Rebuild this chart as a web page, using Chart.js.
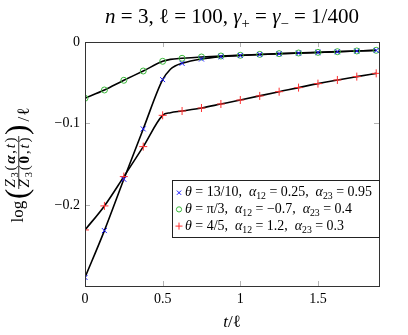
<!DOCTYPE html>
<html>
<head>
<meta charset="utf-8">
<script src="https://cdn.jsdelivr.net/npm/chart.js@4/dist/chart.umd.min.js"></script>
<style>
html, body { margin: 0; padding: 0; background: #fff; }
canvas { display: block; }
</style>
</head>
<body>
<canvas id="chart" width="408" height="335"></canvas>
<script>
// Marker positions (t / l) and values
var tMarks = [0, 0.125, 0.25, 0.375, 0.5, 0.625, 0.75, 0.875, 1, 1.125, 1.25, 1.375, 1.5, 1.625, 1.75, 1.875];
var blueMarks = [-0.289, -0.2315, -0.1685, -0.1067, -0.0462, -0.0262, -0.0209, -0.0180, -0.0165, -0.0153, -0.0144, -0.0136, -0.0128, -0.0120, -0.0111, -0.0103];
var greenMarks = [-0.069, -0.0589, -0.047, -0.0356, -0.0237, -0.0200, -0.0184, -0.0172, -0.0163, -0.0152, -0.0143, -0.0135, -0.0127, -0.0119, -0.0110, -0.0102];
var redMarks = [-0.2307, -0.2012, -0.1652, -0.1284, -0.0900, -0.0847, -0.0810, -0.0761, -0.0712, -0.0662, -0.0610, -0.0560, -0.0511, -0.0466, -0.0425, -0.0385];

// Black (theory) curves, a few extra points read near the bends
var blueLineT = [0, 0.125, 0.25, 0.375, 0.5, 0.55, 0.58, 0.625, 0.75, 0.875, 1, 1.25, 1.5, 1.75, 1.875];
var blueLine = [-0.289, -0.2315, -0.1685, -0.1067, -0.0462, -0.0335, -0.0295, -0.0262, -0.0209, -0.0180, -0.0165, -0.0144, -0.0128, -0.0111, -0.0103];
var greenLineT = [0, 0.125, 0.25, 0.375, 0.5, 0.55, 0.625, 0.75, 0.875, 1, 1.25, 1.5, 1.75, 1.875];
var greenLine = [-0.069, -0.0589, -0.047, -0.0356, -0.0237, -0.0213, -0.0200, -0.0184, -0.0172, -0.0163, -0.0143, -0.0127, -0.0110, -0.0102];
var redLineT = [0, 0.125, 0.25, 0.375, 0.5, 0.55, 0.625, 0.75, 0.875, 1, 1.25, 1.5, 1.75, 1.875];
var redLine = [-0.2307, -0.2012, -0.1652, -0.1284, -0.0900, -0.0868, -0.0847, -0.0810, -0.0761, -0.0712, -0.0610, -0.0511, -0.0425, -0.0385];

var xTicks = [0, 0.5, 1, 1.5];
var yTicks = [0, -0.1, -0.2];

var SERIF = '"Liberation Serif", "DejaVu Serif", serif';

function pts(xs, ys) {
    return xs.map(function (x, i) { return { x: x, y: ys[i] }; });
}

// Small math-text helpers: [text, style] runs, style '' roman, 'i' italic,
// 'b' bold italic, 'B' bold, 's' subscript. gap = extra px after each run
function fontFor(st, size) {
    var s = st === 's' ? size * 0.7 : size;
    var pre = st === 'i' ? 'italic ' : (st === 'b' ? 'italic bold ' : (st === 'B' ? 'bold ' : ''));
    return pre + s.toFixed(2) + 'px ' + SERIF;
}
function mathWidth(ctx, segs, size, gap) {
    var w = 0;
    segs.forEach(function (g) { ctx.font = fontFor(g[1], size); w += ctx.measureText(g[0]).width; });
    return w + (gap || 0) * (segs.length - 1);
}
function drawMath(ctx, segs, x, y, size, gap) {
    ctx.textAlign = 'left';
    ctx.textBaseline = 'alphabetic';
    segs.forEach(function (g) {
        ctx.font = fontFor(g[1], size);
        ctx.fillText(g[0], x, y + (g[1] === 's' ? size * 0.22 : 0));
        x += ctx.measureText(g[0]).width + (gap || 0);
    });
    return x;
}

var titleSegs = [['n', 'i'], [' = 3, ', ''], ['ℓ', ''], [' = 100, ', ''], ['γ', 'i'], ['+', 's'], [' = ', ''], ['γ', 'i'], ['−', 's'], [' = 1/400', '']];
var legendRows = [
    [['θ', 'i'], [' = 13/10,  ', ''], ['α', 'i'], ['12', 's'], [' = 0.25,  ', ''], ['α', 'i'], ['23', 's'], [' = 0.95', '']],
    [['θ', 'i'], [' = π/3,  ', ''], ['α', 'i'], ['12', 's'], [' = −0.7,  ', ''], ['α', 'i'], ['23', 's'], [' = 0.4', '']],
    [['θ', 'i'], [' = 4/5,  ', ''], ['α', 'i'], ['12', 's'], [' = 1.2,  ', ''], ['α', 'i'], ['23', 's'], [' = 0.3', '']]
];
var legendStyles = [
    { style: 'crossRot', color: '#1a1aff', r: 3 },
    { style: 'circle', color: '#3cb83c', r: 2.6 },
    { style: 'cross', color: '#ff3030', r: 3.5 }
];

/**
 * Frame, inward ticks, title, axis labels and legend
 */
var decorPlugin = {
    id: 'decor',
    beforeDatasetsDraw: function (chart) {
        var ctx = chart.ctx, a = chart.chartArea;
        ctx.save();
        ctx.strokeStyle = '#b4b4b4';
        ctx.lineWidth = 1;
        ctx.beginPath();
        xTicks.forEach(function (v) {
            var p = Math.round(chart.scales.x.getPixelForValue(v)) + 0.5;
            ctx.moveTo(p, a.bottom); ctx.lineTo(p, a.bottom - 5);
            ctx.moveTo(p, a.top); ctx.lineTo(p, a.top + 5);
        });
        yTicks.forEach(function (v) {
            var p = Math.round(chart.scales.y.getPixelForValue(v)) + 0.5;
            ctx.moveTo(a.left, p); ctx.lineTo(a.left + 5, p);
            ctx.moveTo(a.right, p); ctx.lineTo(a.right - 5, p);
        });
        ctx.stroke();
        ctx.restore();
    },
    afterDraw: function (chart) {
        var ctx = chart.ctx, a = chart.chartArea;
        ctx.save();
        ctx.fillStyle = '#000';

        // Frame
        ctx.strokeStyle = '#333';
        ctx.lineWidth = 1;
        ctx.strokeRect(Math.round(a.left) + 0.5, Math.round(a.top) + 0.5, Math.round(a.right - a.left), Math.round(a.bottom - a.top));

        // Title
        var ts = 16 * 254 / mathWidth(ctx, titleSegs, 16);
        drawMath(ctx, titleSegs, 232 - mathWidth(ctx, titleSegs, ts) / 2, 23, ts);

        // x label
        var xl = [['t', 'i'], ['/', ''], ['ℓ', '']];
        drawMath(ctx, xl, 232 - mathWidth(ctx, xl, 17) / 2, 327, 17);

        // y label, rotated; local y is the page x
        ctx.save();
        ctx.translate(0, 162.5);
        ctx.rotate(-Math.PI / 2);
        var logS = [['log', '']], slashS = [['/', ''], ['ℓ', '']];
        var num = [['Z', 'i'], ['3', 's'], ['(', ''], ['α', 'b'], [',', ''], ['t', 'i'], [')', '']];
        var den = [['Z', 'i'], ['3', 's'], ['(', ''], ['0', 'B'], [',', ''], ['t', 'i'], [')', '']];
        var fs = 15, fw = 50;
        drawMath(ctx, logS, -60, 22.5, 17, 0);
        ctx.font = '31px ' + SERIF;
        ctx.fillText('(', -36.5, 27);
        ctx.fillText(')', 27.5, 27);
        var gN = Math.max(0, (fw - mathWidth(ctx, num, fs)) / 6);
        var gD = Math.max(0, (fw - mathWidth(ctx, den, fs)) / 6);
        var wN = mathWidth(ctx, num, fs, gN), wD = mathWidth(ctx, den, fs, gD);
        drawMath(ctx, num, -wN / 2, 15, fs, gN);
        drawMath(ctx, den, -wD / 2, 29, fs, gD);
        ctx.fillRect(-Math.max(wN, wD) / 2 - 1.5, 18.4, Math.max(wN, wD) + 3, 0.8);
        drawMath(ctx, slashS, 41, 29, 17, 1);
        ctx.restore();

        // Legend
        var bx = 172.5, by = 180.5, bw = Math.round(a.right) - 172, bh = 57;
        ctx.fillStyle = '#fff';
        ctx.fillRect(bx, by, bw, bh);
        ctx.strokeStyle = '#222';
        ctx.strokeRect(bx, by, bw, bh);
        var ls = 11 * 187 / mathWidth(ctx, legendRows[0], 11);
        legendRows.forEach(function (row, i) {
            var cy = 192.7 + i * 16.7;
            var m = legendStyles[i];
            ctx.strokeStyle = m.color;
            ctx.fillStyle = 'rgba(0,0,0,0)';
            ctx.lineWidth = 1;
            Chart.helpers.drawPoint(ctx, {
                pointStyle: m.style, radius: m.r, borderWidth: 1, rotation: 0
            }, 179, cy);
            ctx.fillStyle = '#000';
            drawMath(ctx, row, 185, cy + 3.6, ls);
        });
        ctx.restore();
    }
};

function marks(vals, style, color, r) {
    return {
        type: 'scatter',
        data: pts(tMarks, vals),
        showLine: false,
        pointStyle: style,
        pointRadius: r,
        pointBorderWidth: 1,
        pointBorderColor: color,
        pointBackgroundColor: 'rgba(0,0,0,0)',
        borderColor: color,
        order: 0
    };
}
function curve(xs, ys) {
    return {
        type: 'line',
        data: pts(xs, ys),
        borderColor: '#000',
        borderWidth: 1.6,
        pointRadius: 0,
        fill: false,
        cubicInterpolationMode: 'monotone',
        order: 1
    };
}

new Chart(document.getElementById('chart').getContext('2d'), {
    type: 'scatter',
    data: {
        datasets: [
            curve(blueLineT, blueLine),
            curve(greenLineT, greenLine),
            curve(redLineT, redLine),
            marks(blueMarks, 'crossRot', '#1a1aff', 3.5),
            marks(greenMarks, 'circle', '#3cb83c', 3),
            marks(redMarks, 'cross', '#ff3030', 4)
        ]
    },
    options: {
        responsive: false,
        animation: false,
        devicePixelRatio: 1,
        layout: { padding: { left: 0, right: 29, top: 42, bottom: 0 } },
        plugins: {
            legend: { display: false },
            title: { display: false },
            tooltip: { enabled: false }
        },
        scales: {
            x: {
                type: 'linear',
                min: 0,
                max: 1.893,
                grid: { display: false, drawTicks: false },
                border: { display: false },
                afterBuildTicks: function (s) { s.ticks = xTicks.map(function (v) { return { value: v }; }); },
                afterFit: function (s) { s.height = 49; },
                ticks: {
                    padding: 5,
                    color: '#000',
                    font: { family: SERIF, size: 14 },
                    callback: function (v) { return String(v); }
                }
            },
            y: {
                type: 'linear',
                min: -0.2995,
                max: 0,
                grid: { display: false, drawTicks: false },
                border: { display: false },
                afterBuildTicks: function (s) { s.ticks = yTicks.map(function (v) { return { value: v }; }); },
                afterFit: function (s) { s.width = 85; },
                ticks: {
                    padding: 5,
                    color: '#000',
                    font: { family: SERIF, size: 14 },
                    callback: function (v) { return v === 0 ? '0' : String(v).replace('-', '\u2212'); }
                }
            }
        }
    },
    plugins: [decorPlugin]
});
</script>
</body>
</html>
